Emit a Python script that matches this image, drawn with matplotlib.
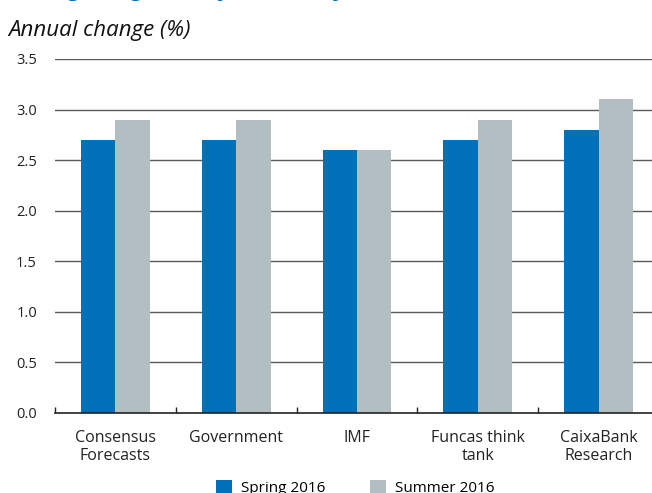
import matplotlib
matplotlib.use("Agg")
import matplotlib.pyplot as plt
import numpy as np
from matplotlib.patches import Patch

categories = ["Consensus\nForecasts", "Government", "IMF", "Funcas think\ntank", "CaixaBank\nResearch"]
spring_2016 = [2.7, 2.7, 2.6, 2.7, 2.8]
summer_2016 = [2.9, 2.9, 2.6, 2.9, 3.1]
series_names = ["Spring 2016", "Summer 2016"]
y_ticks = [0.0, 0.5, 1.0, 1.5, 2.0, 2.5, 3.0, 3.5]

BLUE = "#0070B8"
GREY = "#B2BEC2"
FONT = "Open Sans"

plt.rcParams["font.family"] = [FONT, "DejaVu Sans"]

W, H = 652, 493
fig = plt.figure(figsize=(W / 100, H / 100), dpi=100)

left_px, right_px = 55, 659
top_px, bottom_px = 59, 413
ax = fig.add_axes([left_px / W, (H - bottom_px) / H,
                   (right_px - left_px) / W, (bottom_px - top_px) / H])

x = np.arange(len(categories))
bw = 0.285
ax.bar(x - bw / 2, spring_2016, width=bw, color=BLUE, zorder=3, label=series_names[0])
ax.bar(x + bw / 2, summer_2016, width=bw, color=GREY, zorder=3, label=series_names[1])

ax.set_xlim(-0.5, len(categories) - 0.5)
ax.set_ylim(0, 3.5)
ax.set_yticks(y_ticks)
ax.set_yticklabels([f"{v:.1f}" for v in y_ticks], fontsize=10.5, color="#222222")
ax.tick_params(axis="y", length=0, pad=13)

for v in y_ticks[1:]:
    ax.axhline(v, color="#5a5a5a", lw=1.0, zorder=1)

ax.set_xticks(x)
ax.set_xticklabels(categories, fontsize=11.5, color="#222222", linespacing=1.2)
ax.tick_params(axis="x", which="major", length=0, pad=12)
ax.set_xticks(np.arange(len(categories) + 1) - 0.5, minor=True)
ax.tick_params(axis="x", which="minor", direction="in", length=4, width=1, color="#222222")

for s in ["top", "right", "left"]:
    ax.spines[s].set_visible(False)
ax.spines["bottom"].set_color("#222222")
ax.spines["bottom"].set_linewidth(1.2)
ax.spines["bottom"].set_zorder(4)

fig.text(8 / W, 1 - 36 / H, "Annual change (%)", fontsize=16, style="italic",
         color="#111111", ha="left", va="baseline")
fig.text(8 / W, 1 + 5 / H, "Change in growth forecasts for 2016", fontsize=18,
         style="italic", weight="bold", color=BLUE, ha="left", va="baseline")

handles = [Patch(facecolor=BLUE, edgecolor="none"), Patch(facecolor=GREY, edgecolor="none")]
fig.legend(handles, series_names, loc="upper center", bbox_to_anchor=(355 / W, 1 - 480 / H),
           ncol=2, frameon=False, fontsize=11, handlelength=1.05, handleheight=1.05,
           handletextpad=0.6, columnspacing=2.9, borderpad=0, borderaxespad=0)

fig.savefig("out.png", dpi=100)
